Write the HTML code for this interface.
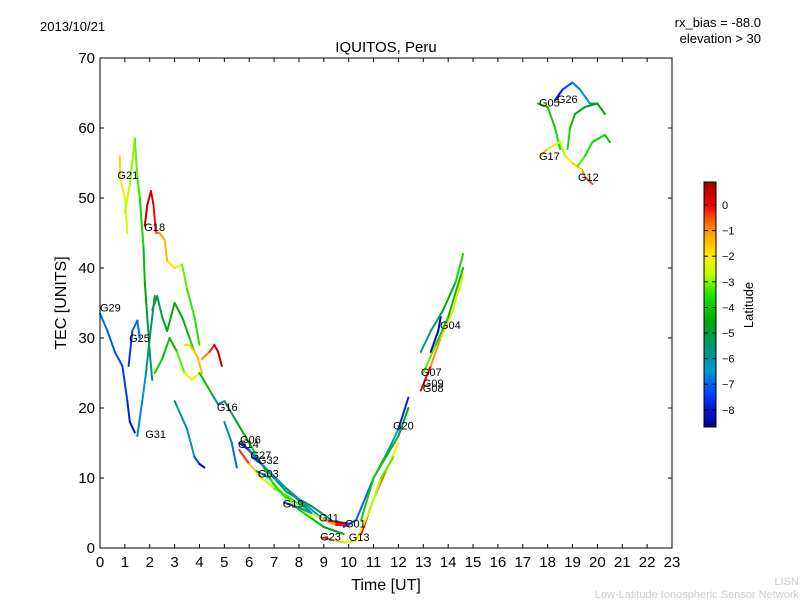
<!DOCTYPE html>
<html><head><meta charset="utf-8"><style>
body{margin:0;background:#fff;}
svg{display:block;font-family:"Liberation Sans","DejaVu Sans",sans-serif;}
</style></head><body>
<svg id="c" width="800" height="600">
<defs><linearGradient id="jet" x1="0" y1="1" x2="0" y2="0"></linearGradient></defs>
<text x="40" y="31" font-size="13">2013/10/21</text>
<text x="761" y="27" font-size="13" text-anchor="end">rx_bias = -88.0</text>
<text x="761" y="43" font-size="13" text-anchor="end">elevation &gt; 30</text>
<text x="386" y="52" font-size="15" text-anchor="middle">IQUITOS, Peru</text>
<text x="386" y="590" font-size="16" text-anchor="middle">Time [UT]</text>
<text transform="translate(66,303) rotate(-90)" font-size="16" text-anchor="middle">TEC [UNITS]</text>
<g id="marks"></g>
<g id="axes"></g>
<g id="labels"></g>
<rect x="704" y="182" width="12" height="245" fill="url(#jet)" stroke="#000" stroke-width="1"/>
<g id="cbticks"></g>
<text transform="translate(753,305) rotate(-90)" font-size="13" text-anchor="middle">Latitude</text>
<text x="799" y="585" font-size="11" fill="#ccc" text-anchor="end">LISN</text>
<text x="799" y="598" font-size="11" fill="#ccc" text-anchor="end">Low-Latitude Ionospheric Sensor Network</text>
</svg>
<script>
const xTicks=[0,1,2,3,4,5,6,7,8,9,10,11,12,13,14,15,16,17,18,19,20,21,22,23];
const yTicks=[0,10,20,30,40,50,60,70];
const cbTicks=[0,-1,-2,-3,-4,-5,-6,-7,-8];
const trackG29=[[0,33.5,-6.8],[0.3,31,-7],[0.6,28,-7.2],[0.9,26,-7.3],[1.1,21,-7.6],[1.2,18,-8],[1.4,16.5,-8.3]];
const trackG25=[[1.15,26,-8],[1.3,31,-7],[1.5,32.5,-7],[1.6,30,-6.8]];
const trackG31=[[1.5,16,-7],[1.7,21,-6.5],[1.85,25,-6],[2.0,30,-5.5],[2.2,36,-5.2]];
const trackG21a=[[0.8,56,-1.8],[0.8,53,-1.6],[1.0,50,-2.3],[1.1,45,-2.5]];
const trackG21b=[[1.0,48,-2.6],[1.2,52,-2.8],[1.4,58.5,-3],[1.5,53,-3.3],[1.6,50,-3.5],[1.75,43,-4],[1.8,38,-4.5],[1.9,33,-5],[2.0,28,-5.3],[2.1,24,-5.6]];
const trackG18=[[1.8,46,0.5],[1.9,49,0.6],[2.05,51,0.5],[2.15,49,0.3],[2.25,45,-0.5],[2.4,45,-1],[2.6,44,-1.2],[2.7,41,-1.6],[3.0,40,-2],[3.3,40.5,-3],[3.5,37,-3.3],[3.8,33,-3.5],[4.0,29,-3.6]];
const trackRed=[[4.1,27,-1],[4.4,28,-0.8],[4.6,29,0.3],[4.75,28,0.6],[4.9,26,0.6]];
const trackBlob1=[[2.1,34,-5],[2.3,36,-5.3],[2.5,33,-5],[2.7,31,-4.8],[3.0,35,-4.5],[3.3,33,-4.5],[3.6,30,-4.2],[3.8,28,-3.5]];
const trackBlob2=[[2.2,25,-4],[2.5,27,-3.8],[2.8,30,-4.5],[3.1,28,-4],[3.4,25,-2.5],[3.7,24,-2.2],[4.0,25,-2]];
const trackYel=[[3.4,29,-2],[3.6,29,-1.7],[3.9,27.5,-1.5],[4.1,25,-1.3]];
const trackG16=[[4.0,25,-4],[4.5,22,-4.5],[4.75,20.5,-6.2],[5.0,21,-5.8],[5.5,18,-5],[6.0,15,-4],[6.5,12,-3.5],[7.0,9,-4],[8.0,5.5,-4],[9.0,3,-4.5],[9.8,2,-5]];
const trackCyan1=[[3.0,21,-5.5],[3.5,17,-6],[3.8,13,-6.5],[4.0,12,-8],[4.2,11.5,-8.5]];
const trackCyan2=[[5.0,18,-6.5],[5.3,15,-6.8],[5.5,11.5,-7]];
const trackG06=[[5.7,15,-4],[6.5,12,-5],[7.5,8,-5],[8.5,6,-5],[9.3,4,-6]];
const trackG14=[[5.6,15,-8],[6.0,14,-7.5],[7.0,10,-6.5],[8.0,7,-6],[9.0,4,-7],[10.0,3.5,-8]];
const trackOrg=[[5.6,14,0.3],[6.0,12,-1],[6.5,10,-2],[7.0,8.5,-3],[7.5,7.5,-3.5],[8.5,5,-3.2],[9.0,4,-1.5],[9.5,3.6,0.3],[10,3.5,0.6]];
const trackG27=[[6.1,13,-8],[6.5,12,-7],[7.5,8.5,-6],[8.5,5,-5.5]];
const trackG03=[[6.3,11,-8],[6.8,10,-4],[7.5,7,-3],[8.5,4.5,-2.5]];
const trackG19=[[7.4,6.5,-8],[7.8,6,-7],[8.5,5,-6]];
const trackG11=[[9.0,4,-1.5],[9.5,3.3,-0.5],[10.0,3.2,0.5]];
const trackG23=[[8.9,1.5,0.5],[9.3,1.2,-1],[9.8,0.8,-2],[10.2,1,-2.5],[10.5,2,-2]];
const trackG20=[[9.8,3,-7],[10.3,4,-7.5],[11,10,-6.5],[11.6,14,-6],[12.0,17,-7],[12.4,21.5,-8.5]];
const trackRiseG=[[10.5,4,-4],[11.0,10,-3.8],[11.5,13,-4],[12.0,16,-4.5],[12.4,20,-5]];
const trackRiseR=[[10.5,2,0.5],[11,7,-0.5],[11.5,11,-1],[12,15,-3]];
const trackRiseY=[[10.3,1,-2],[10.8,5,-2.5],[11.3,10,-3],[11.8,13,-3.5]];
const trackG07=[[12.9,22.5,0.6],[13.3,26,-0.5],[13.7,30,-1.5],[14.2,34,-2],[14.6,39,-3]];
const trackG04=[[13.3,28,-8],[13.6,31,-8.5],[13.7,33,-8.3]];
const trackG04c=[[12.9,28,-5.5],[13.3,31,-6],[13.8,34,-5],[14.3,38,-4.5],[14.6,42,-3]];
const trackG04g=[[13.0,25,-3],[13.5,29,-3.5],[14.0,33,-4],[14.6,40,-4.5]];
const trackG05=[[17.6,63.5,-4],[18.0,63,-4],[18.3,60,-4],[18.5,57,-3.6]];
const trackG17=[[17.7,56,-0.8],[18.0,57,-2],[18.5,58,-2.8]];
const trackG12=[[18.5,58,-3],[18.7,56,-2.5],[19.0,55,-2],[19.4,54,-1.5],[19.5,53,-1],[19.8,52,0]];
const trackG12g=[[19.2,54.5,-3],[19.5,56,-3.5],[19.8,58,-3.8],[20.3,59,-4],[20.5,58,-4.2]];
const trackG26=[[18.3,64,-8.5],[18.6,65.5,-7.5],[19.0,66.5,-7],[19.3,65.5,-6.5],[19.7,63.5,-6],[20.0,63.5,-6.5]];
const trackMid=[[18.8,57,-3.5],[18.9,60,-4],[19.1,62,-4.5],[19.5,63,-5],[20,63.5,-5],[20.3,62,-4]];
const tracks=[trackG29,trackG25,trackG31,trackG21a,trackG21b,trackG18,trackRed,trackBlob1,trackBlob2,trackYel,trackG16,trackCyan1,trackCyan2,trackG06,trackG14,trackOrg,trackG27,trackG03,trackG19,trackG11,trackG23,trackG20,trackRiseG,trackRiseR,trackRiseY,trackG07,trackG04,trackG04c,trackG04g,trackG05,trackG17,trackG12,trackG12g,trackG26,trackMid];
const satNames=["G29","G21","G18","G25","G31","G16","G06","G14","G27","G32","G03","G19","G11","G01","G23","G13","G20","G04","G07","G09","G08","G05","G26","G17","G12"];
const satT=[0,0.7,1.78,1.17,1.82,4.7,5.63,5.55,6.05,6.35,6.35,7.35,8.8,9.85,8.85,10.0,11.78,13.67,12.9,12.98,12.98,17.65,18.37,17.65,19.22];
const satTec=[33.8,52.7,45.3,29.4,15.7,19.6,14.9,14.3,12.7,12.0,10.1,5.8,3.8,2.9,1.1,1.0,16.9,31.3,24.6,23.0,22.3,63.1,63.6,55.4,52.4];

const NS='http://www.w3.org/2000/svg';
const X0=100,X1=672,Y0=548,Y1=58;
const xs=t=>X0+(t-0)/23*(X1-X0);
const ys=v=>Y0-(v-0)/70*(Y0-Y1);
const LMIN=-8.67,LMAX=0.9;
const CM=[[-8.67,[0,0,140]],[-8.0,[0,20,210]],[-7.3,[0,70,255]],[-6.5,[0,150,210]],[-5.5,[0,150,110]],[-4.5,[0,170,0]],[-3.5,[30,230,0]],[-2.7,[190,255,0]],[-2.0,[255,235,0]],[-1.0,[255,150,0]],[0,[240,0,0]],[0.9,[160,0,0]]];
function jet(l){l=Math.max(LMIN,Math.min(LMAX,l));
 for(let i=0;i<CM.length-1;i++){const a=CM[i],b=CM[i+1];if(l<=b[0]){const f=(l-a[0])/(b[0]-a[0]);
  const c=a[1].map((v,k)=>Math.round(v+(b[1][k]-v)*f));return `rgb(${c[0]},${c[1]},${c[2]})`;}}
 return 'rgb(160,0,0)';}
function mk(tag,a,parent){const e=document.createElementNS(NS,tag);for(const k in a)e.setAttribute(k,a[k]);parent.appendChild(e);return e;}
const grad=document.getElementById('jet');
CM.forEach(s=>{mk('stop',{offset:(s[0]-LMIN)/(LMAX-LMIN),'stop-color':`rgb(${s[1].join(',')})`},grad);});
const marks=document.getElementById('marks');
tracks.forEach(tr=>{for(let i=0;i<tr.length-1;i++){const a=tr[i],b=tr[i+1];
 const ln=mk('line',{x1:xs(a[0]),y1:ys(a[1]),x2:xs(b[0]),y2:ys(b[1]),stroke:jet((a[2]+b[2])/2),'stroke-width':2,'stroke-linecap':'round'},marks);
 
 }});
const lab=document.getElementById('labels');
satNames.forEach((n,i)=>{const t=mk('text',{x:xs(satT[i]),y:ys(satTec[i]),'font-size':11},lab);t.textContent=n;
 
 });
const ax=document.getElementById('axes');
const fr=mk('rect',{x:X0,y:Y1,width:X1-X0,height:Y0-Y1,fill:'none',stroke:'#000','stroke-width':1},ax);


xTicks.forEach(t=>{const x=xs(t);
 mk('line',{x1:x,y1:Y0,x2:x,y2:Y0-4,stroke:'#000'},ax);mk('line',{x1:x,y1:Y1,x2:x,y2:Y1+4,stroke:'#000'},ax);
 const tx=mk('text',{x:x,y:567,'font-size':15,'text-anchor':'middle'},ax);tx.textContent=t;
 
 });
yTicks.forEach(v=>{const y=ys(v);
 mk('line',{x1:X0,y1:y,x2:X0+4,y2:y,stroke:'#000'},ax);mk('line',{x1:X1,y1:y,x2:X1-4,y2:y,stroke:'#000'},ax);
 const tx=mk('text',{x:95,y:y+5,'font-size':15,'text-anchor':'end'},ax);tx.textContent=v;
 
 });
const cb=document.getElementById('cbticks');
cbTicks.forEach(v=>{const y=427-(v-LMIN)/(LMAX-LMIN)*245;
 mk('line',{x1:704,y1:y,x2:708,y2:y,stroke:'#000'},cb);mk('line',{x1:716,y1:y,x2:712,y2:y,stroke:'#000'},cb);
 const tx=mk('text',{x:722,y:y+4,'font-size':11},cb);tx.textContent=v===0?'0':'\u2212'+(-v);
 
 });
</script>
</body></html>
